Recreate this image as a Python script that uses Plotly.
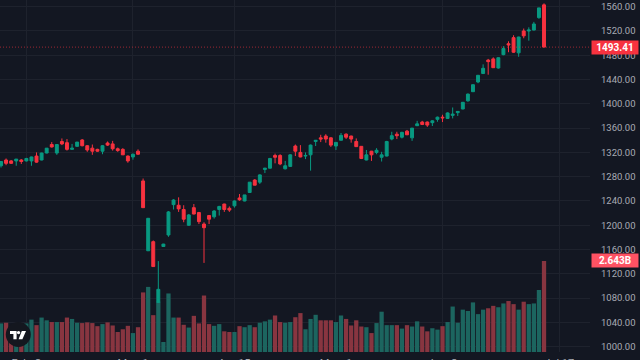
import plotly.graph_objects as go

open_prices = [1298,1307.5,1306,1306,1307.5,1306,1306,1314,1307.5,1319,1333,1319,1338,1336,1325,1330,1340.5,1331,1327,1325,
 1322,1335.5,1334,1326,1325,1314,1312.5,1322,1273,1158,1173,1073,1165,1184,1234,1233,1226,1200,1229,1221,
 1202,1216,1214,1226,1235,1228,1232,1245,1240,1254,1274.5,1271,1292,1294,1315,1315,1293,1297,1330.5,1320,
 1314,1316,1338,1344,1347,1344,1330.5,1340,1350,1347,1338,1330,1307.5,1322,1320,1312,1314,1342,1350,1345,
 1355,1344,1364,1370,1370,1369,1374.5,1378,1376,1381,1385.5,1391.5,1405,1420,1436,1450,1472,1474,1459,1481,
 1499,1509,1484,1520,1520,1521.5,1542,1563]
high_prices = [1305,1310,1307.5,1309,1309,1311,1313,1320,1319.5,1327,1337,1333,1343,1342,1334,1337,1342,1332,1333,1326,
 1332,1338,1339,1328,1327,1315,1318,1325,1277,1212,1175,1141,1169.5,1223.5,1243,1246,1233,1218.5,1235,1222,
 1205,1217,1225,1232,1235.5,1231,1241,1251.5,1250,1271,1276,1284,1294.5,1311,1318,1317,1306,1317,1333,1332,
 1320,1333,1340.5,1349,1350,1345,1337,1352,1351.5,1347.5,1343,1330.5,1324,1322.5,1327,1321,1339,1354,1354,1354,
 1357,1360,1372,1372,1371,1373,1379,1382,1386,1394,1388,1403,1417,1432,1447.5,1465,1474,1476.5,1476.5,1495,
 1503,1513,1510.5,1524,1526,1535,1558,1565.5]
low_prices = [1295,1299,1301,1298,1301,1305,1298,1303,1307,1318.5,1328,1316,1332,1323,1325,1329.5,1330,1321,1316,1321,
 1317,1330.5,1323,1321,1316,1303,1308,1316,1229,1158,1132,1072,1165,1181,1226,1222,1205,1199,1218,1202,
 1138,1202,1211,1216,1222,1222,1229,1240.5,1239.5,1253.5,1266,1268,1286,1294,1302,1299,1292,1296,1314,1312,
 1309,1290,1330.5,1337,1336,1329,1324,1340,1342,1336,1329,1309,1307,1306,1317,1305,1313.5,1340,1342,1343,
 1349,1339,1363.5,1365,1362,1363.5,1370.5,1370,1375,1376,1380,1391,1403.5,1419.5,1434,1449,1448,1459,1458,1480,
 1485,1484,1477.5,1508,1504,1521,1540,1493.41]
close_prices = [1305,1302,1302,1309,1305,1310,1312.5,1304,1319,1327,1329,1333,1334,1325,1327,1337,1331,1324,1322,1322,
 1331,1332,1326,1323,1316,1306,1317,1317,1229,1211.5,1132,1094.5,1169,1222,1241.6,1227,1210,1217,1218.5,1206,
 1196,1210,1223.5,1231,1226,1225,1240,1242,1250,1271,1266,1283,1294,1310,1312,1301,1298,1316,1322,1312.5,
 1315,1332,1340,1342,1342,1332,1336.5,1348,1345,1342,1329.5,1310,1316,1316,1323.5,1316,1338,1347.5,1347.5,1353,
 1349,1360,1367,1366,1365,1372,1378,1377,1385,1383,1387.5,1402.5,1416,1431.5,1447,1458.5,1469.5,1459.5,1476,1491,
 1497,1485,1510,1512,1521.5,1531.5,1558,1493.41]
volume_billions = [0.83,0.85,0.75,0.83,0.71,0.83,0.94,0.78,1.00,0.92,0.87,0.87,0.87,1.00,0.96,0.85,0.84,0.86,0.84,0.75,
 0.81,0.86,0.77,0.58,0.66,0.76,0.55,0.72,1.73,1.89,1.07,1.46,0.29,1.70,1.00,1.00,0.79,0.71,1.05,0.83,
 1.64,0.81,0.76,0.81,0.60,0.58,0.58,0.75,0.72,0.78,0.72,0.85,0.89,0.94,1.06,0.87,0.85,0.87,1.01,1.13,
 0.66,0.96,1.08,0.92,0.92,0.92,0.87,1.06,0.96,0.77,0.92,0.74,0.72,0.55,0.84,1.17,0.78,0.78,0.78,0.68,
 0.78,0.74,0.89,0.74,0.60,0.69,0.65,0.75,0.87,1.32,0.85,1.23,1.19,1.44,1.10,1.23,1.27,1.34,1.30,1.41,
 1.48,1.39,1.23,1.46,1.39,1.41,1.80,2.643]
tick_index = [5, 26, 46, 66, 87, 110]
tick_labels = ["Feb  3", "Mar  1", "Apr 15", "May  1", "Jun  3", "Jul 17"]
price_ticks = [1000,1040,1080,1120,1160,1200,1240,1280,1320,1360,1400,1440,1480,1520,1560]

BG = "#131722"
GRID = "#1e222d"
UP = "#089981"
DOWN = "#f7323f"
VOL_UP = "#1c655f"
VOL_DOWN = "#883540"
TEXT = "#a8abb4"
FONT = "Roboto"
PLOT_W, PLOT_H = 590, 352

xs = list(range(len(open_prices)))
vol_colors = [VOL_UP if c >= o else VOL_DOWN for o, c in zip(open_prices, close_prices)]

def px(x): return x / PLOT_W
def py(y): return (PLOT_H - y) / PLOT_H
def poly(pts):
    return "M " + " L ".join(f"{px(a):.5f} {py(b):.5f}" for a, b in pts) + " Z"

fig = go.Figure()
fig.add_trace(go.Bar(x=xs, y=volume_billions, marker=dict(color=vol_colors, line_width=0), yaxis="y", hoverinfo="skip"))
fig.add_trace(go.Candlestick(
    x=xs, open=open_prices, high=high_prices, low=low_prices, close=close_prices, yaxis="y2",
    increasing=dict(line=dict(color=UP, width=1), fillcolor=UP),
    decreasing=dict(line=dict(color=DOWN, width=1), fillcolor=DOWN),
    whiskerwidth=0))

shapes = [
    dict(type="line", xref="paper", x0=0, x1=1, yref="y2", y0=close_prices[-1], y1=close_prices[-1],
         line=dict(color=DOWN, width=1, dash="1px,2px"), opacity=0.6),
    dict(type="circle", xref="paper", yref="paper", x0=px(5.8), x1=px(30.8), y0=py(347), y1=py(322),
         fillcolor="#14171f", line=dict(color="#14171f", width=0)),
    dict(type="path", xref="paper", yref="paper", fillcolor="white", line_width=0,
         path=poly([(10,331),(16.6,331),(16.6,339.3),(13.4,339.3),(13.4,334),(10,334)])),
    dict(type="circle", xref="paper", yref="paper", x0=px(16.9), x1=px(20.2), y0=py(334.2), y1=py(330.9),
         fillcolor="white", line_width=0),
    dict(type="path", xref="paper", yref="paper", fillcolor="white", line_width=0,
         path=poly([(21.8,331),(26,331),(22.4,339.3),(18.6,339.3)])),
]
badge = lambda text, yval, yref, color: dict(
    text=f"<b>{text}</b>", xref="paper", x=px(615), yref=yref, y=yval, xanchor="center", yanchor="middle",
    showarrow=False, bgcolor=color, width=46, height=13, borderpad=0,
    font=dict(family=FONT, size=10, color="white"))

fig.update_layout(
    width=640, height=360, margin=dict(l=0, r=50, t=0, b=8, pad=0, autoexpand=False),
    paper_bgcolor=BG, plot_bgcolor=BG, showlegend=False, bargap=0.16, boxgap=0.18,
    font=dict(family=FONT, size=9.5, color=TEXT),
    xaxis=dict(range=[-0.197, 116.06], tickmode="array", tickvals=tick_index, ticktext=tick_labels,
               showgrid=True, gridcolor=GRID, gridwidth=1, zeroline=False, showline=False, automargin=False,
               ticks="", ticklabelstandoff=3, rangeslider=dict(visible=False),
               tickfont=dict(family=FONT, size=11, color=TEXT)),
    yaxis=dict(range=[0, 10.22], showgrid=False, zeroline=False, showticklabels=False, ticks="", automargin=False),
    yaxis2=dict(range=[991.3, 1571], overlaying="y", side="right", tickmode="array", tickvals=price_ticks,
                ticktext=[f"{v:.2f}" for v in price_ticks], showgrid=True, gridcolor=GRID, gridwidth=1, automargin=False,
                zeroline=False, showline=False, ticks="", ticklabelstandoff=10,
                tickfont=dict(family=FONT, size=9.5, color=TEXT)),
    shapes=shapes,
    annotations=[
        badge(f"{close_prices[-1]:.2f}", close_prices[-1], "y2", DOWN),
        badge(f"{volume_billions[-1]:.3f}B", volume_billions[-1], "y", "#ff5263"),
    ],
)
fig.write_html("out.html", config=dict(displayModeBar=False),
               post_script="document.body.style.margin='0';document.body.style.overflow='hidden';")
